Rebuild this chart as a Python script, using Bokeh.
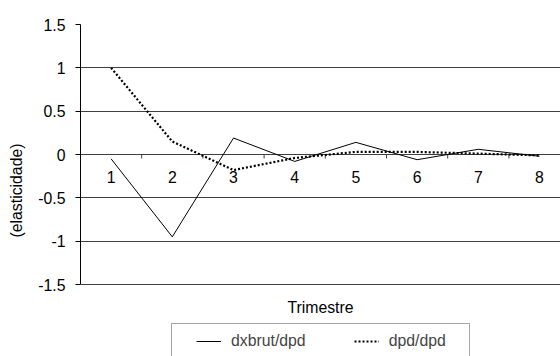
from bokeh.plotting import figure
from bokeh.models import (ColumnDataSource, FixedTicker, Range1d, Legend, LegendItem, Label)
from bokeh.core.properties import value
from bokeh.embed import file_html
from bokeh.resources import INLINE

# ---- data ----
quarters = [1, 2, 3, 4, 5, 6, 7, 8]
quarter_labels = ["1", "2", "3", "4", "5", "6", "7", "8"]
dxbrut_dpd = [-0.05, -0.95, 0.19, -0.08, 0.14, -0.06, 0.06, -0.02]
dpd_dpd = [1.0, 0.15, -0.18, -0.04, 0.03, 0.03, 0.01, -0.01]
y_ticks = [-1.5, -1.0, -0.5, 0.0, 0.5, 1.0, 1.5]
y_tick_labels = ["-1.5", "-1", "-0.5", "0", "0.5", "1", "1.5"]
series_names = ["dxbrut/dpd", "dpd/dpd"]
x_title = "Trimestre"
y_title = "(elasticidade)"

FONT = "Liberation Sans"
FS = "15.8px"

PX_PER_Y = 260 / 3.0      # pixels per y unit
PX_PER_X = 61.2           # pixels per category
FRAME_H = 332
FRAME_W = 480

y_top = 1.5
y_bot = y_top - FRAME_H / PX_PER_Y
x_lo = 0.5
x_hi = x_lo + FRAME_W / PX_PER_X

src = ColumnDataSource(dict(x=quarters, a=dxbrut_dpd, b=dpd_dpd, lab=quarter_labels))

p = figure(width=560, height=356, output_backend="svg", toolbar_location=None,
           x_range=Range1d(x_lo, x_hi), y_range=Range1d(y_bot, y_top),
           x_axis_location=None, min_border_left=80, min_border_right=0,
           min_border_top=24, min_border_bottom=0)
p.outline_line_color = None
p.background_fill_color = "white"
p.border_fill_color = "white"

# y axis
p.yaxis.ticker = FixedTicker(ticks=y_ticks)
p.yaxis.bounds = (y_ticks[0], y_ticks[-1])
p.yaxis.major_label_overrides = {t: l for t, l in zip(y_ticks, y_tick_labels)}
p.yaxis.major_label_text_font = FONT
p.yaxis.major_label_text_font_size = FS
p.yaxis.major_label_text_color = "black"
p.yaxis.major_label_standoff = 10
p.yaxis.major_tick_out = 5
p.yaxis.major_tick_in = 0
p.yaxis.minor_tick_line_color = None
p.yaxis.axis_line_color = "black"
p.yaxis.major_tick_line_color = "black"
p.yaxis.axis_label = y_title
p.yaxis.axis_label_text_font = FONT
p.yaxis.axis_label_text_font_size = FS
p.yaxis.axis_label_text_font_style = "normal"
p.yaxis.axis_label_text_color = "black"
p.yaxis.axis_label_standoff = 10

p.xgrid.visible = False
p.ygrid.ticker = FixedTicker(ticks=y_ticks)
p.ygrid.grid_line_color = "#404040"
p.ygrid.grid_line_width = 1

# category tick marks on zero line (between categories)
bounds = [q + 0.5 for q in quarters[:-1]]
p.segment(x0=bounds, y0=[0] * len(bounds), x1=bounds, y1=[-4 / PX_PER_Y] * len(bounds),
          line_color="#404040", line_width=1)

# category labels below the zero line
p.text(x="x", y=0, text="lab", source=src, text_font=value(FONT), text_font_size=FS,
       text_align="center", text_baseline="middle", y_offset=22, text_color="black")

r1 = p.line("x", "a", source=src, line_color="black", line_width=1)
r2 = p.line("x", "b", source=src, line_color="black", line_width=2.2, line_dash="2 2")

# x axis title below the plot area (centred on the plot area)
p.add_layout(Label(x=x_lo + (FRAME_W / 2) / PX_PER_X, y=y_ticks[0] - 23 / PX_PER_Y,
                   text=x_title, text_font=FONT, text_font_size=FS,
                   text_align="center", text_baseline="middle", text_color="black"))

legend = Legend(items=[LegendItem(label=series_names[0], renderers=[r1]),
                       LegendItem(label=series_names[1], renderers=[r2])],
                orientation="horizontal", location=(91, -3),
                label_text_font=FONT, label_text_font_size=FS,
                glyph_width=25, label_standoff=10, spacing=48,
                border_line_color="#505050", border_line_width=1,
                margin=0, background_fill_color="white")
try:
    legend.padding = dict(left=24, right=23, top=7, bottom=7)
except Exception:
    legend.padding = 7
p.add_layout(legend, "center")

open("out.html", "w").write(file_html(p, INLINE))
